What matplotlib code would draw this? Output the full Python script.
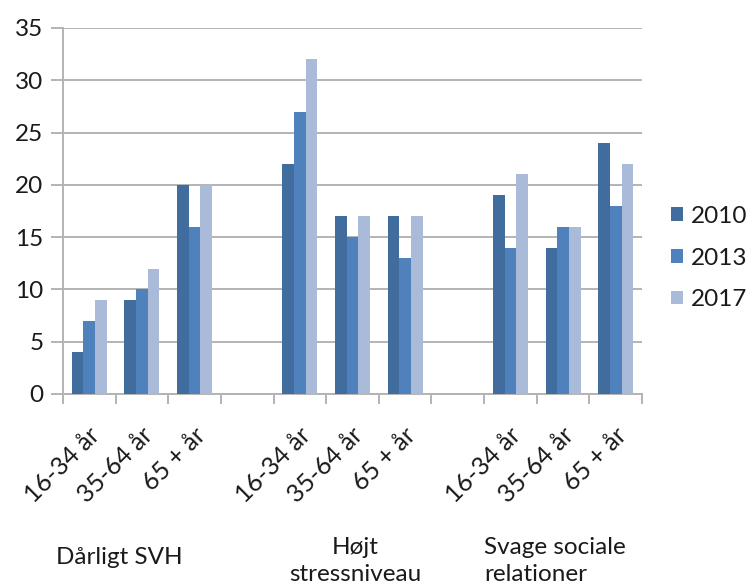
import matplotlib
matplotlib.use("Agg")
import matplotlib.pyplot as plt
import matplotlib.transforms as mtransforms
import numpy as np

plt.rcParams['font.family'] = ['Lato', 'DejaVu Sans']

groups = ["Dårligt SVH", "Højt\nstressniveau", "Svage sociale\nrelationer"]
ages = ["16-34 år", "35-64 år", "65 + år"]
years = ["2010", "2013", "2017"]
values = {
    "2010": [4, 9, 20, 22, 17, 17, 19, 14, 24],
    "2013": [7, 10, 16, 27, 15, 13, 14, 16, 18],
    "2017": [9, 12, 20, 32, 17, 17, 21, 16, 22],
}
colors = ["#416c9e", "#4f81bd", "#aabbda"]

# category slots: 3 per group with a blank slot between groups
pos = []
labels = []
for g in range(len(groups)):
    for a in range(len(ages)):
        pos.append(g * (len(ages) + 1) + a)
        labels.append(ages[a])
pos = np.array(pos, dtype=float)
nslots = len(groups) * (len(ages) + 1) - 1

FS = 17.5
TXT = '#1a1a1a'
fig = plt.figure(figsize=(7.53, 5.85), dpi=100)
ax = fig.add_axes([63/753, 1-394/585, (642-63)/753, (394-28)/585])

w = 0.222
for i, y in enumerate(years):
    ax.bar(pos + (i - 1) * w, values[y], width=w, color=colors[i], zorder=3,
           label=y, edgecolor='none')

ax.set_xlim(-0.5, nslots - 0.5)
ax.set_ylim(0, 35)
ax.set_yticks(np.arange(0, 36, 5))
ax.yaxis.grid(True, color='#b3b3b3', linewidth=1.4, zorder=0)
ax.set_axisbelow(True)
for s in ['top', 'right']:
    ax.spines[s].set_visible(False)
ax.spines['left'].set_color('#b3b3b3')
ax.spines['left'].set_linewidth(1.4)
ax.spines['bottom'].set_color('#b3b3b3')
ax.spines['bottom'].set_linewidth(1.4)

ax.tick_params(axis='y', length=9, width=1.4, color='#b3b3b3', labelsize=FS,
               pad=5, labelcolor=TXT)
ax.set_xticks(pos)
ax.set_xticklabels(labels, rotation=45, ha='right', va='center',
                   rotation_mode='anchor', fontsize=18, color=TXT)
ax.tick_params(axis='x', which='major', length=0, pad=27)
offset = mtransforms.ScaledTranslation(7/100, 0, fig.dpi_scale_trans)
for lbl in ax.get_xticklabels():
    lbl.set_transform(lbl.get_transform() + offset)
ax.set_xticks(np.arange(-0.5, nslots, 1.0), minor=True)
ax.tick_params(axis='x', which='minor', length=7, width=1.4, color='#b3b3b3')

# group labels
fig.text(119/753, 1-558/585, groups[0], ha='center', va='center', fontsize=FS,
         color=TXT)
fig.text(355/753, 1-561/585, groups[1], ha='center', va='center', fontsize=FS,
         color=TXT, linespacing=1.3)
fig.text(484/753, 1-561/585, groups[2], ha='left', va='center', fontsize=FS,
         color=TXT, linespacing=1.3)

leg = fig.legend(loc='center left', bbox_to_anchor=(671/753, 1-258/585),
                 frameon=False, fontsize=FS, handlelength=0.5, handleheight=0.5,
                 labelspacing=0.85, handletextpad=0.3, borderpad=0,
                 borderaxespad=0)
for t in leg.get_texts():
    t.set_color(TXT)

fig.savefig("out.png", dpi=100)
